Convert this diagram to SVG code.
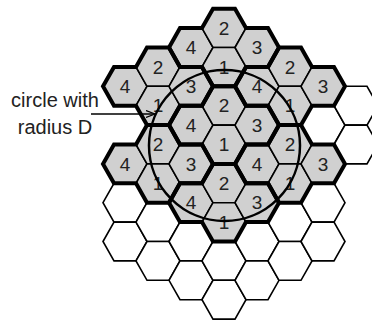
<svg xmlns="http://www.w3.org/2000/svg" xmlns:xlink="http://www.w3.org/1999/xlink" width="372" height="322" viewBox="0 0 372 322">
<defs>
<style>
.g{fill:#d0d0d0;stroke:#000;stroke-width:1.6;stroke-linejoin:miter}
.w{fill:#fff;stroke:#000;stroke-width:1.6;stroke-linejoin:miter}
.cl{fill:none;stroke:#000;stroke-width:4;stroke-linejoin:miter}
.lb{font-family:"Liberation Sans",Arial,sans-serif;font-size:19px;fill:#222;text-anchor:middle}
.tx{font-family:"Liberation Sans",Arial,sans-serif;font-size:20px;fill:#222;text-anchor:middle}
</style>
<polygon id="hx" points="-22,0 -11,-19.4 11,-19.4 22,0 11,19.4 -11,19.4"/>
<path id="cluster" d="M-11,-58.2 L11,-58.2 L22,-38.8 L44,-38.8 L55,-19.4 L44,0 L22,0 L11,19.4 L-11,19.4 L-22,0 L-44,0 L-55,-19.4 L-44,-38.8 L-22,-38.8 Z"/>
<marker id="arr" markerUnits="userSpaceOnUse" markerWidth="10" markerHeight="8" refX="9" refY="4" orient="auto">
<path d="M0,0.5 L9,4 L0,7.5" fill="none" stroke="#000" stroke-width="1.2"/>
</marker>
</defs>
<rect width="372" height="322" fill="#fff"/>
<g id="white-cells">
<g id="w-m3-3"><use xlink:href="#hx" class="w" x="125" y="202.7"/></g>
<g id="w-m3-5"><use xlink:href="#hx" class="w" x="125" y="241.5"/></g>
<g id="w-m2-4"><use xlink:href="#hx" class="w" x="158" y="222.1"/></g>
<g id="w-m2-6"><use xlink:href="#hx" class="w" x="158" y="260.9"/></g>
<g id="w-m1-5"><use xlink:href="#hx" class="w" x="191" y="241.5"/></g>
<g id="w-m1-7"><use xlink:href="#hx" class="w" x="191" y="280.3"/></g>
<g id="w-0-6"><use xlink:href="#hx" class="w" x="224" y="260.9"/></g>
<g id="w-0-8"><use xlink:href="#hx" class="w" x="224" y="299.7"/></g>
<g id="w-1-5"><use xlink:href="#hx" class="w" x="257" y="241.5"/></g>
<g id="w-1-7"><use xlink:href="#hx" class="w" x="257" y="280.3"/></g>
<g id="w-2-4"><use xlink:href="#hx" class="w" x="290" y="222.1"/></g>
<g id="w-2-6"><use xlink:href="#hx" class="w" x="290" y="260.9"/></g>
<g id="w-3-3"><use xlink:href="#hx" class="w" x="323" y="202.7"/></g>
<g id="w-3-5"><use xlink:href="#hx" class="w" x="323" y="241.5"/></g>
<g id="w-3-m1"><use xlink:href="#hx" class="w" x="323" y="125.1"/></g>
<g id="w-4-m2"><use xlink:href="#hx" class="w" x="356" y="105.7"/></g>
<g id="w-4-0"><use xlink:href="#hx" class="w" x="356" y="144.5"/></g>
</g>
<g id="gray-cells">
<g id="c-m3-m3"><use xlink:href="#hx" class="g" x="125" y="86.3"/><text class="lb" x="125" y="93">4</text></g>
<g id="c-m3-1"><use xlink:href="#hx" class="g" x="125" y="163.9"/><text class="lb" x="125" y="170.6">4</text></g>
<g id="c-m2-m4"><use xlink:href="#hx" class="g" x="158" y="66.9"/><text class="lb" x="158" y="73.6">2</text></g>
<g id="c-m2-m2"><use xlink:href="#hx" class="g" x="158" y="105.7"/><text class="lb" x="158" y="112.4">1</text></g>
<g id="c-m2-0"><use xlink:href="#hx" class="g" x="158" y="144.5"/><text class="lb" x="158" y="151.2">2</text></g>
<g id="c-m2-2"><use xlink:href="#hx" class="g" x="158" y="183.3"/><text class="lb" x="158" y="190">1</text></g>
<g id="c-m1-m5"><use xlink:href="#hx" class="g" x="191" y="47.5"/><text class="lb" x="191" y="54.2">4</text></g>
<g id="c-m1-m3"><use xlink:href="#hx" class="g" x="191" y="86.3"/><text class="lb" x="191" y="93">3</text></g>
<g id="c-m1-m1"><use xlink:href="#hx" class="g" x="191" y="125.1"/><text class="lb" x="191" y="131.8">4</text></g>
<g id="c-m1-1"><use xlink:href="#hx" class="g" x="191" y="163.9"/><text class="lb" x="191" y="170.6">3</text></g>
<g id="c-m1-3"><use xlink:href="#hx" class="g" x="191" y="202.7"/><text class="lb" x="191" y="209.4">4</text></g>
<g id="c-0-m6"><use xlink:href="#hx" class="g" x="224" y="28.1"/><text class="lb" x="224" y="34.8">2</text></g>
<g id="c-0-m4"><use xlink:href="#hx" class="g" x="224" y="66.9"/><text class="lb" x="224" y="73.6">1</text></g>
<g id="c-0-m2"><use xlink:href="#hx" class="g" x="224" y="105.7"/><text class="lb" x="224" y="112.4">2</text></g>
<g id="c-0-0"><use xlink:href="#hx" class="g" x="224" y="144.5"/><text class="lb" x="224" y="151.2">1</text></g>
<g id="c-0-2"><use xlink:href="#hx" class="g" x="224" y="183.3"/><text class="lb" x="224" y="190">2</text></g>
<g id="c-0-4"><use xlink:href="#hx" class="g" x="224" y="222.1"/><text class="lb" x="224" y="228.8">1</text></g>
<g id="c-1-m5"><use xlink:href="#hx" class="g" x="257" y="47.5"/><text class="lb" x="257" y="54.2">3</text></g>
<g id="c-1-m3"><use xlink:href="#hx" class="g" x="257" y="86.3"/><text class="lb" x="257" y="93">4</text></g>
<g id="c-1-m1"><use xlink:href="#hx" class="g" x="257" y="125.1"/><text class="lb" x="257" y="131.8">3</text></g>
<g id="c-1-1"><use xlink:href="#hx" class="g" x="257" y="163.9"/><text class="lb" x="257" y="170.6">4</text></g>
<g id="c-1-3"><use xlink:href="#hx" class="g" x="257" y="202.7"/><text class="lb" x="257" y="209.4">3</text></g>
<g id="c-2-m4"><use xlink:href="#hx" class="g" x="290" y="66.9"/><text class="lb" x="290" y="73.6">2</text></g>
<g id="c-2-m2"><use xlink:href="#hx" class="g" x="290" y="105.7"/><text class="lb" x="290" y="112.4">1</text></g>
<g id="c-2-0"><use xlink:href="#hx" class="g" x="290" y="144.5"/><text class="lb" x="290" y="151.2">2</text></g>
<g id="c-2-2"><use xlink:href="#hx" class="g" x="290" y="183.3"/><text class="lb" x="290" y="190">1</text></g>
<g id="c-3-m3"><use xlink:href="#hx" class="g" x="323" y="86.3"/><text class="lb" x="323" y="93">3</text></g>
<g id="c-3-1"><use xlink:href="#hx" class="g" x="323" y="163.9"/><text class="lb" x="323" y="170.6">3</text></g>
</g>
<g id="clusters">
<use xlink:href="#cluster" class="cl" x="224" y="144.5"/>
<use xlink:href="#cluster" class="cl" x="224" y="66.9"/>
<use xlink:href="#cluster" class="cl" x="158" y="105.7"/>
<use xlink:href="#cluster" class="cl" x="290" y="105.7"/>
<use xlink:href="#cluster" class="cl" x="158" y="183.3"/>
<use xlink:href="#cluster" class="cl" x="290" y="183.3"/>
<use xlink:href="#cluster" class="cl" x="224" y="222.1"/>
</g>
<g id="circle-D">
<circle cx="224.5" cy="145.5" r="75.5" fill="none" stroke="#000" stroke-width="2.5"/>
</g>
<g id="label-circle">
<text class="tx" x="55" y="107">circle with</text>
<text class="tx" x="55" y="134">radius D</text>
</g>
<g id="connectors">
<line x1="91" y1="114" x2="155" y2="114" stroke="#000" stroke-width="1.3" marker-end="url(#arr)"/>
</g>
</svg>
